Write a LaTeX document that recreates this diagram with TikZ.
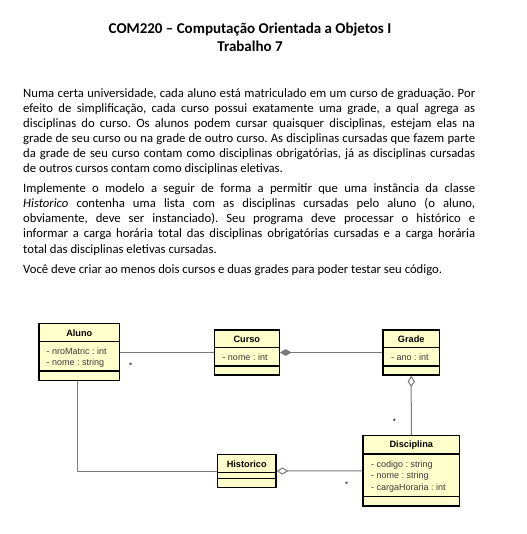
\documentclass[tikz,border=0pt]{standalone}
\usepackage{fontspec}
\setmainfont{Carlito}
\newfontfamily\umlfont{Liberation Sans}
\usetikzlibrary{arrows.meta}
\frenchspacing
\definecolor{umlyellow}{HTML}{FFFFCC}
\definecolor{umlline}{HTML}{7A7A7A}
\definecolor{umltext}{HTML}{3A3A3A}
\tikzset{
    classbox/.style={draw, line width=1.4bp, fill=umlyellow, inner sep=0pt},
    classname/.style={font=\umlfont\fontsize{9.2bp}{11bp}\selectfont\bfseries},
    classattr/.style={font=\umlfont\fontsize{9bp}{11.6bp}\selectfont, text=umltext, anchor=west, inner sep=0pt, align=left},
    divider/.style={line width=1.2bp},
    assoc/.style={draw=umlline, line width=1bp},
    mult/.style={font=\umlfont\fontsize{8bp}{8bp}\selectfont, inner sep=0pt}
}
\begin{document}
\begin{tikzpicture}[x=1bp, y=-1bp]
        \useasboundingbox (0,0) rectangle (527,534);

        % cabecalho
        \node[align=center, font=\fontsize{15bp}{18bp}\selectfont\bfseries] (titulo) at (250,37)
            {COM220 -- Computação Orientada a Objetos I\\Trabalho 7};

        % enunciado
        \node[anchor=north west, text width=452bp, align=justify, inner sep=0pt,
              font=\fontsize{12.7bp}{15.1bp}\selectfont] (enunciado) at (23,88) {%
            \setlength{\parskip}{5bp}%
            Numa certa universidade, cada aluno está matriculado em um curso de graduação. Por\linebreak
            efeito de simplificação, cada curso possui exatamente uma grade, a qual agrega as\linebreak
            disciplinas do curso. Os alunos podem cursar quaisquer disciplinas, estejam elas na\linebreak
            grade de seu curso ou na grade de outro curso. As disciplinas cursadas que fazem parte\linebreak
            da grade de seu curso contam como disciplinas obrigatórias, já as disciplinas cursadas\linebreak
            de outros cursos contam como disciplinas eletivas.\par
            Implemente o modelo a seguir de forma a permitir que uma instância da classe\linebreak
            \textit{Historico} contenha uma lista com as disciplinas cursadas pelo aluno (o aluno,\linebreak
            obviamente, deve ser instanciado). Seu programa deve processar o histórico e\linebreak
            informar a carga horária total das disciplinas obrigatórias cursadas e a carga horária\linebreak
            total das disciplinas eletivas cursadas.\par
            Você deve criar ao menos dois cursos e duas grades para poder testar seu código.};

        % classes
        \node[classbox, minimum width=80.7bp, minimum height=57.4bp] (aluno) at (79.3,352) {};
        \node[classbox, minimum width=65bp, minimum height=45bp] (curso) at (246.8,352.5) {};
        \node[classbox, minimum width=56.3bp, minimum height=45bp] (grade) at (411.2,352.5) {};
        \node[classbox, minimum width=96.7bp, minimum height=70.3bp] (disciplina) at (411.3,470.9) {};
        \node[classbox, minimum width=58.7bp, minimum height=33.4bp] (historico) at (246.7,471) {};

        % divisorias
        \foreach \c/\a/\b in {aluno/341.7/371, curso/347.7/366, grade/347.7/366,
                              disciplina/454/496.7, historico/472.7/478.7} {
            \draw[divider] (\c.west |- 0,\a) -- (\c.east |- 0,\a);
            \draw[divider] (\c.west |- 0,\b) -- (\c.east |- 0,\b);
        }

        % nomes
        \node[classname] (alunoNome) at (79.3,333) {Aluno};
        \node[classname] (cursoNome) at (246.8,339.3) {Curso};
        \node[classname] (gradeNome) at (411.2,339.3) {Grade};
        \node[classname] (disciplinaNome) at (411.3,445.5) {Disciplina};
        \node[classname] (historicoNome) at (246.7,464) {Historico};

        % atributos
        \node[classattr] (alunoAttr) at (46.5,357.8) {- nroMatric : int\\- nome : string};
        \node[classattr] (cursoAttr) at (222.3,357.5) {- nome : int};
        \node[classattr] (gradeAttr) at (391,357.5) {- ano : int};
        \node[classattr] (disciplinaAttr) at (371,476.4) {- codigo : string\\- nome : string\\- cargaHoraria : int};

        % associacoes
        \draw[assoc] (aluno.east) -- (aluno.east -| curso.west);
        \draw[assoc, {Diamond[length=11.5bp, width=6.8bp]}-] (curso.east) -- (grade.west);
        \draw[assoc, {Diamond[length=11.5bp, width=7.2bp, fill=white]}-] (grade) -- (disciplina);
        \draw[assoc, {Diamond[length=11.5bp, width=7.2bp, fill=white]}-] (historico) -- (disciplina);
        \draw[assoc] ([xshift=-1.6bp]aluno.south) |- (historico.west);

        % multiplicidades
        \node[mult] (multCurso) at (130.7,366) {*};
        \node[mult] (multGrade) at (394.3,421.5) {*};
        \node[mult] (multHistorico) at (346.7,485) {*};
\end{tikzpicture}
\end{document}
